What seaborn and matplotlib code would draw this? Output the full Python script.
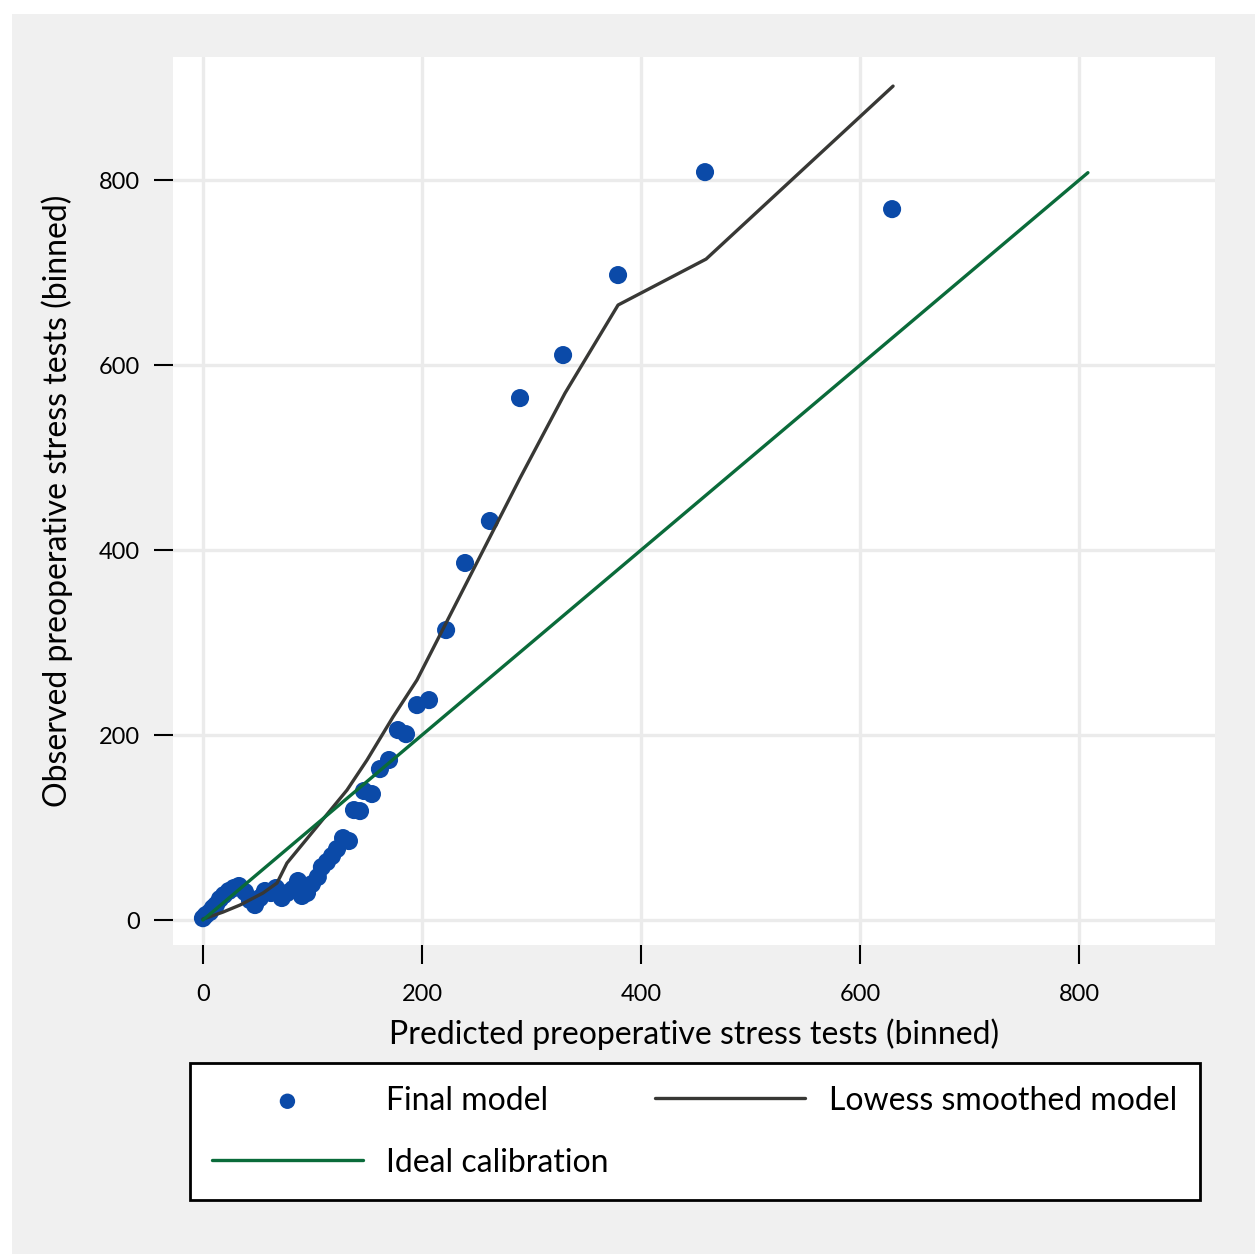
import numpy as np
import pandas as pd
import matplotlib
matplotlib.use('Agg')
import matplotlib.pyplot as plt
import seaborn as sns
from matplotlib.patches import Rectangle

# binned calibration points (predicted vs observed)
predicted = [0, 2.7, 6.4, 9.1, 11.9, 15.5, 19.2, 23.7, 28.3, 32.9, 38.4, 42.9,
             47.5, 52, 56.6, 62.1, 66.7, 72, 76.7, 82.2, 86.8, 90.4, 95, 99.5,
             104.9, 108.6, 113.2, 117.8, 122.4, 127.9, 133.3, 137.9, 143.4, 147,
             154.3, 161.6, 169.9, 178, 185.4, 195.4, 206.4, 222, 239.3, 262,
             289.5, 328.8, 379, 458.4, 629.2]
observed = [2, 5.4, 8.6, 13, 16.2, 22.7, 27, 31.4, 34.6, 36.8, 30.3, 21.6,
            16.2, 23.8, 31.4, 29.2, 34.6, 23.8, 29.2, 33.5, 42.2, 26, 29.2, 38.9,
            46.5, 57.3, 62.7, 69.2, 76.8, 88.6, 85.4, 118.9, 117.8, 139.5,
            136.2, 163.2, 173, 205.4, 201, 232.4, 237.8, 313.5, 386, 431.4,
            564.3, 610.8, 697.3, 808.6, 768.6]

# lowess smoothed curve
lowess_x = [0, 18.3, 33.8, 54.8, 67.6, 76.7, 131.5, 149.8, 173.5, 195.4, 289.5,
            330.6, 379, 459.4, 630.1]
lowess_y = [1, 8.6, 16.2, 29.2, 40, 61.6, 140.5, 173, 219.5, 259.5, 477.8,
            569.7, 664.9, 714.6, 901.6]

# ideal calibration line
ideal = [0, 808]

pts = pd.DataFrame({'pred': predicted, 'obs': observed})
low = pd.DataFrame({'x': lowess_x, 'y': lowess_y})
ide = pd.DataFrame({'x': ideal, 'y': ideal})

sns.set_style('white')
plt.rcParams['font.family'] = ['Lato', 'DejaVu Sans']
plt.rcParams['text.color'] = 'black'
plt.rcParams['axes.labelcolor'] = 'black'
plt.rcParams['xtick.color'] = 'black'
plt.rcParams['ytick.color'] = 'black'

fig = plt.figure(figsize=(12.55, 12.54), dpi=100)
fig.patch.set_facecolor('white')
fig.patches.append(Rectangle((12 / 1255, 0), 1, 1 - 14 / 1254, transform=fig.transFigure,
                             facecolor='#f0f0f0', edgecolor='none', zorder=-10))

ax = fig.add_axes([0.1378, 0.2464, 0.8303, 0.7081])
ax.set_facecolor('white')

dot_col = '#0b4aa8'
low_col = '#383835'
ide_col = '#0a6b3a'

sns.scatterplot(data=pts, x='pred', y='obs', ax=ax, color=dot_col, s=170,
                edgecolor='none', zorder=3, label='Final model')
sns.lineplot(data=low, x='x', y='y', ax=ax, color=low_col, lw=2.4,
             sort=False, estimator=None, zorder=4, label='Lowess smoothed model')
sns.lineplot(data=ide, x='x', y='y', ax=ax, color=ide_col, lw=2.4,
             sort=False, estimator=None, zorder=4, label='Ideal calibration')

ax.set_xlim(-27.4, 924)
ax.set_ylim(-27, 933)
ticks = [0, 200, 400, 600, 800]
ax.set_xticks(ticks)
ax.set_yticks(ticks)
ax.grid(True, color='#ebebeb', lw=2.4)
ax.set_axisbelow(True)
for s in ax.spines.values():
    s.set_visible(False)
ax.tick_params(axis='both', bottom=True, left=True, length=14, width=1.5,
               color='black', labelcolor='black', direction='out', labelsize=17, pad=10)
ax.tick_params(axis='x', pad=14)
ax.set_xlabel('Predicted preoperative stress tests (binned)', fontsize=23, labelpad=10)
ax.set_ylabel('Observed preoperative stress tests (binned)', fontsize=23, labelpad=18)

h, l = ax.get_legend_handles_labels()
ax.get_legend().remove()
order = [0, 2, 1]
leg = fig.legend([h[i] for i in order], [l[i] for i in order], ncol=2,
                 loc='lower left', bbox_to_anchor=(0.1514, 0.0431, 0.8046, 0.11),
                 mode='expand', fontsize=23, handlelength=4.7, handletextpad=0.75,
                 borderpad=0.7, labelspacing=1.0, frameon=True, fancybox=False,
                 columnspacing=2, borderaxespad=0, framealpha=1, markerscale=0.85)
leg.get_frame().set_edgecolor('black')
leg.get_frame().set_facecolor('white')
leg.get_frame().set_linewidth(2)

fig.savefig('out.png', dpi=100, facecolor=fig.get_facecolor())
